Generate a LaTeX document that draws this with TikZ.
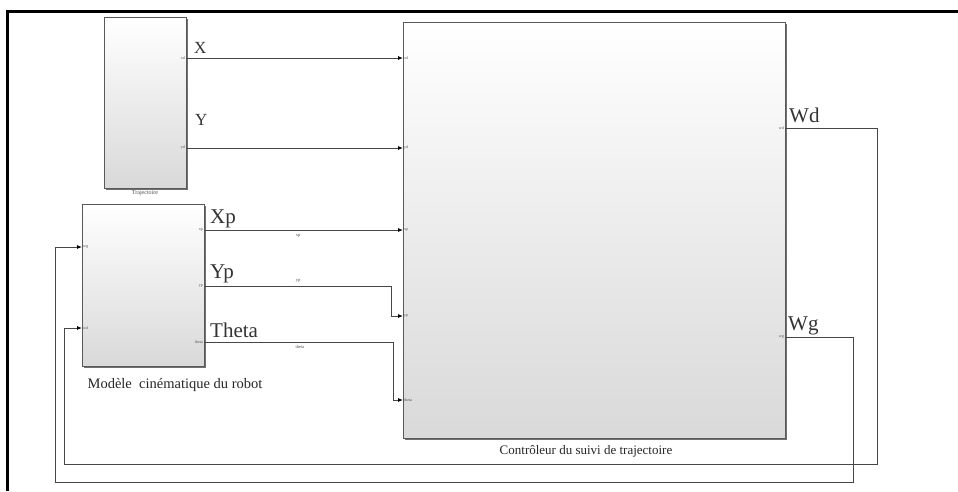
\documentclass[tikz,border=0pt]{standalone}
\usepackage{fontspec}
\setmainfont{Liberation Serif}
\usetikzlibrary{shadows,arrows.meta}
\begin{document}
\begin{tikzpicture}[x=1pt,y=-1pt,
  blk/.style={draw=gray!70!black, line width=1pt, top color=white, bottom color=gray!30,
    drop shadow={shadow xshift=1.5pt, shadow yshift=-1.5pt, fill=gray!60!black, opacity=0.8},
    inner sep=0pt},
  wire/.style={draw=gray!55!black, line width=0.9pt},
  arr/.style={wire, -{Latex[length=5pt,width=4pt,color=black]}},
  plbl/.style={font=\fontsize{4}{4}\selectfont, inner sep=1pt, text=gray!60!black},
  wlbl/.style={font=\fontsize{4.5}{4.5}\selectfont, inner sep=1pt, text=gray!60!black},
  big/.style={font=\fontsize{21}{21}\selectfont, anchor=base west, inner sep=0pt, text=black!80},
  mid/.style={font=\fontsize{17}{17}\selectfont, anchor=base west, inner sep=0pt, text=black!80},
  blkcap/.style={font=\fontsize{13}{13}\selectfont, inner sep=0pt, text=black!85}
]
\useasboundingbox (0,0) rectangle (958,491);
% outer frame
\draw[line width=2.2pt] (958,11.5) -- (7.5,11.5) -- (7.5,491);

% blocks
\node[blk, minimum width=82pt, minimum height=171pt] (traj) at (145,102.5) {};
\node[blk, minimum width=122pt, minimum height=162pt] (mod) at (143,285) {};
\node[blk, minimum width=382pt, minimum height=416pt] (ctrl) at (594,230) {};

% block captions
\node[font=\fontsize{6}{6}\selectfont, text=gray!60!black] (trajcap) at (145,193) {Trajectoire};
\node[blkcap, font=\fontsize{14.5}{14.5}\selectfont] (modcap) at (175,385) {Modèle\ \ cinématique du robot};
\node[blkcap] (ctrlcap) at (586,451) {Contrôleur du suivi de trajectoire};

% ports
\coordinate (tx) at (186,58);
\coordinate (ty) at (186,148);
\coordinate (mxp) at (204,230);
\coordinate (myp) at (204,286);
\coordinate (mth) at (204,342);
\coordinate (mwg) at (82,247);
\coordinate (mwd) at (82,328);
\coordinate (cxd) at (403,58);
\coordinate (cyd) at (403,148);
\coordinate (cxp) at (403,230);
\coordinate (cyp) at (403,316);
\coordinate (cth) at (403,400);
\coordinate (cwd) at (785,128);
\coordinate (cwg) at (785,337);

% port labels
\node[plbl, anchor=east] (ltx) at (tx) {xd};
\node[plbl, anchor=east] (lty) at (ty) {yd};
\node[plbl, anchor=east] (lmxp) at (mxp) {xp};
\node[plbl, anchor=east] (lmyp) at (myp) {yp};
\node[plbl, anchor=east] (lmth) at (mth) {theta};
\node[plbl, anchor=west] (lmwg) at (mwg) {wg};
\node[plbl, anchor=west] (lmwd) at (mwd) {wd};
\node[plbl, anchor=west] (lcxd) at (cxd) {xd};
\node[plbl, anchor=west] (lcyd) at (cyd) {yd};
\node[plbl, anchor=west] (lcxp) at (cxp) {xp};
\node[plbl, anchor=west] (lcyp) at (cyp) {yp};
\node[plbl, anchor=west] (lcth) at (cth) {theta};
\node[plbl, anchor=east] (lcwd) at (cwd) {wd};
\node[plbl, anchor=east] (lcwg) at (cwg) {wg};

% connectors
\draw[arr] (tx) -- (cxd);
\draw[arr] (ty) -- (cyd);
\draw[arr] (mxp) -- (cxp);
\draw[arr] (myp) -- (391,286) -- (391,316) -- (cyp);
\draw[arr] (mth) -- (393,342) -- (393,400) -- (cth);
\draw[arr] (cwd) -- (877,128) -- (877,464) -- (64,464) -- (64,328) -- (mwd);
\draw[arr] (cwg) -- (853,337) -- (853,482) -- (55,482) -- (55,247) -- (mwg);

% wire labels
\node[wlbl] (wxp) at (298,236) {xp};
\node[wlbl] (wyp) at (298,281) {yp};
\node[wlbl] (wth) at (300,347) {theta};

% signal names
\node[mid] (nX) at (194,53) {X};
\node[mid] (nY) at (195,125) {Y};
\node[big] (nXp) at (210,223) {Xp};
\node[big] (nYp) at (210,278) {Yp};
\node[big] (nTh) at (210,337) {Theta};
\node[big] (nWd) at (789,122) {Wd};
\node[big] (nWg) at (788,330) {Wg};
\end{tikzpicture}
\end{document}
